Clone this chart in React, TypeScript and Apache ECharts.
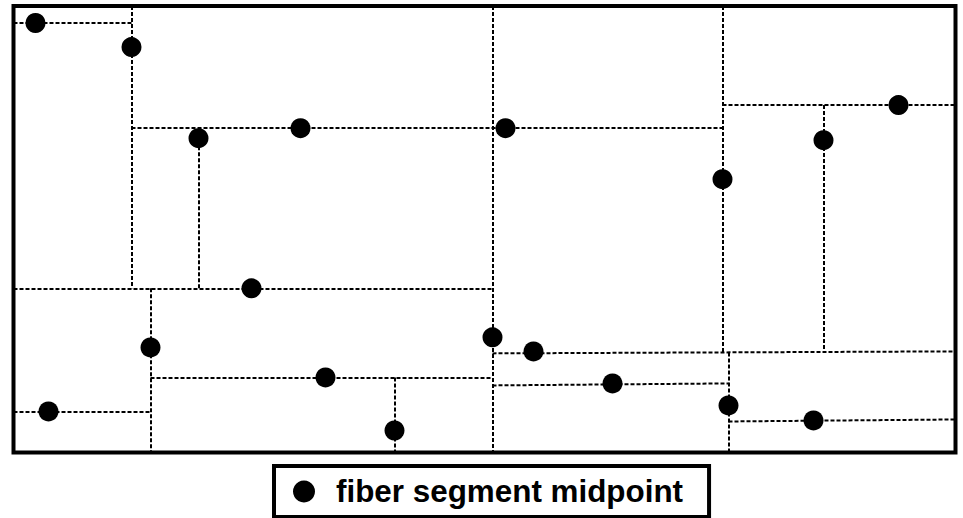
import React, { useEffect, useRef } from "react";
import * as echarts from "echarts";

// Field extents (data units)
const FIELD_W = 942;
const FIELD_H = 446;

// Fiber segment midpoints [x, y]
const midpointX = [22, 118, 185, 287, 492, 709, 810, 885, 238, 137, 35, 312, 381, 479, 520, 599, 715, 800];
const midpointY = [429, 405, 314, 324, 324, 273, 312, 347, 164, 105, 41, 75, 22, 115, 101, 69, 47, 32];

// Partition boundaries (dashed): start and end points
const segX1 = [0, 118, 118, 185, 479, 709, 709, 810, 0, 137, 137, 0, 381, 479, 479, 715, 715];
const segY1 = [429, 446, 324, 324, 446, 446, 347, 347, 164, 164, 75, 41, 75, 99, 67, 100, 31];
const segX2 = [118, 118, 709, 185, 479, 709, 942, 810, 479, 137, 479, 137, 381, 942, 715, 715, 942];
const segY2 = [429, 164, 324, 164, 0, 100, 347, 100, 164, 0, 75, 41, 0, 101, 69, 0, 33];

const legendLabel = "fiber segment midpoint";

export default function App() {
  const ref = useRef<HTMLDivElement>(null);
  useEffect(() => {
    if (!ref.current) return;
    const chart = echarts.init(ref.current, undefined, { renderer: "svg" });
    const segs = segX1.map((_, i) => ({
      coords: [
        [segX1[i], segY1[i]],
        [segX2[i], segY2[i]],
      ],
    }));
    const pts = midpointX.map((x, i) => [x, midpointY[i]]);
    chart.setOption({
      animation: false,
      backgroundColor: "#fff",
      grid: {
        left: 13.5,
        top: 6,
        width: 942,
        height: 446.5,
        show: true,
        borderColor: "#000",
        borderWidth: 4,
        backgroundColor: "transparent",
      },
      xAxis: { type: "value", min: 0, max: FIELD_W, show: false },
      yAxis: { type: "value", min: 0, max: FIELD_H, show: false },
      legend: {
        data: [legendLabel],
        left: 274,
        top: 466,
        icon: "circle",
        itemWidth: 22,
        itemHeight: 22,
        borderColor: "#000",
        borderWidth: 4,
        padding: [10, 26, 10, 19],
        textStyle: {
          fontSize: 31.4,
          fontWeight: "bold",
          color: "#000",
          fontFamily: "Liberation Sans, Arial, sans-serif",
          padding: [0, 0, 0, 16],
        },
      },
      series: [
        {
          type: "lines",
          name: "boundaries",
          coordinateSystem: "cartesian2d",
          polyline: false,
          silent: true,
          z: 1,
          lineStyle: { color: "#000", width: 2, type: [4, 2], opacity: 1 },
          data: segs,
        },
        {
          type: "scatter",
          name: legendLabel,
          symbol: "circle",
          symbolSize: 20,
          z: 3,
          itemStyle: { color: "#000", opacity: 1 },
          data: pts,
        },
      ],
    });
    return () => chart.dispose();
  }, []);
  return (
    <div
      ref={ref}
      style={{ position: "fixed", left: 0, top: 0, width: 963, height: 518 }}
    />
  );
}
